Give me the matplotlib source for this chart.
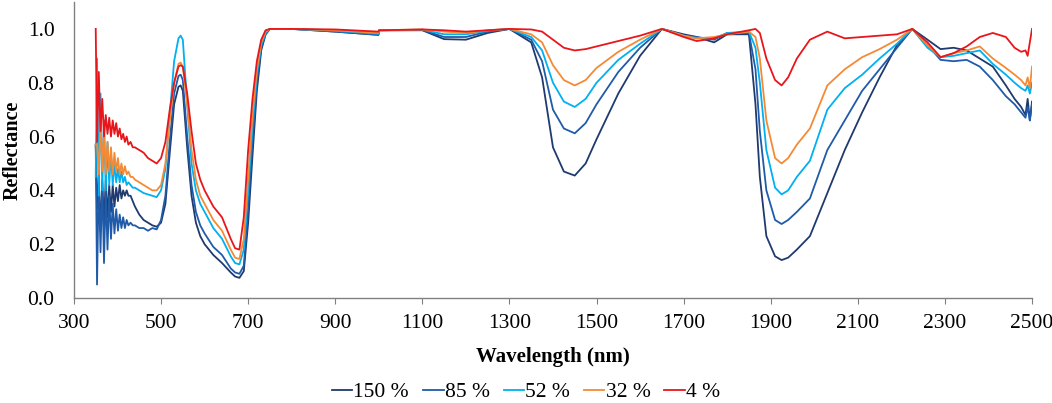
import matplotlib
matplotlib.use('Agg')
import matplotlib.pyplot as plt

# longitudini d'onda comuni a tutte le curve (nm)
wavelength = [350, 353, 357, 361, 365, 369, 373, 377, 381, 385, 389, 393, 397, 401, 405, 409, 413, 417,
              421, 425, 430, 435, 440, 450, 460, 470, 480, 490, 500,
              510, 520, 530, 540, 545, 550, 560, 570, 580, 590,
              600, 620, 640, 660, 670, 680, 690, 700, 710, 720,
              730, 740, 750, 800, 900, 999, 1001, 1100, 1150, 1200,
              1250, 1300, 1350, 1375, 1400, 1425, 1450, 1475, 1500, 1550,
              1600, 1650, 1700, 1730, 1770, 1800, 1850, 1865, 1875, 1890,
              1910, 1925, 1940, 1960, 1990, 2030, 2070, 2110, 2150, 2190,
              2225, 2260, 2290, 2320, 2350, 2380, 2410, 2440, 2460, 2475,
              2485, 2490, 2495, 2500]

r150 = [0.57, 0.33, 0.45, 0.25, 0.43, 0.28, 0.44, 0.30, 0.42, 0.32, 0.42, 0.34, 0.41, 0.36, 0.42, 0.37, 0.40, 0.38,
        0.40, 0.38, 0.38, 0.36, 0.34, 0.31, 0.29, 0.28, 0.27, 0.265, 0.28,
        0.35, 0.54, 0.72, 0.785, 0.79, 0.77, 0.56, 0.38, 0.28, 0.23,
        0.20, 0.16, 0.13, 0.095, 0.08, 0.075, 0.10, 0.28, 0.53, 0.77,
        0.92, 0.98, 1.0, 1.0, 0.99, 0.978, 0.995, 0.995, 0.962, 0.96,
        0.985, 1.0, 0.95, 0.82, 0.56, 0.47, 0.455, 0.50, 0.59, 0.76,
        0.90, 1.0, 0.98, 0.97, 0.95, 0.98, 0.98, 0.72, 0.45, 0.23,
        0.155, 0.141, 0.15, 0.18, 0.23, 0.39, 0.55, 0.69, 0.82, 0.94,
        1.0, 0.96, 0.925, 0.93, 0.92, 0.89, 0.86, 0.79, 0.74, 0.71,
        0.68, 0.74, 0.66, 0.73]

r85 = [0.57, 0.05, 0.45, 0.17, 0.44, 0.13, 0.40, 0.18, 0.38, 0.22, 0.35, 0.24, 0.33, 0.25, 0.31, 0.26, 0.30, 0.26,
       0.29, 0.27, 0.28, 0.27, 0.27, 0.26, 0.26, 0.25, 0.26, 0.255, 0.29,
       0.38, 0.58, 0.76, 0.825, 0.83, 0.81, 0.60, 0.42, 0.32, 0.27,
       0.24, 0.19, 0.16, 0.11, 0.095, 0.09, 0.12, 0.33, 0.58, 0.80,
       0.93, 0.98, 1.0, 1.0, 0.99, 0.978, 0.995, 0.996, 0.97, 0.97,
       0.99, 1.0, 0.96, 0.88, 0.70, 0.63, 0.612, 0.65, 0.72, 0.84,
       0.93, 1.0, 0.975, 0.97, 0.96, 0.985, 0.985, 0.85, 0.62, 0.40,
       0.29, 0.275, 0.29, 0.32, 0.37, 0.55, 0.66, 0.77, 0.85, 0.93,
       1.0, 0.94, 0.885, 0.88, 0.885, 0.86, 0.81, 0.75, 0.72, 0.69,
       0.67, 0.71, 0.66, 0.72]

r52 = [0.45, 0.89, 0.38, 0.76, 0.40, 0.66, 0.40, 0.58, 0.42, 0.54, 0.42, 0.50, 0.43, 0.48, 0.43, 0.47, 0.43, 0.45,
       0.42, 0.43, 0.42, 0.41, 0.41, 0.40, 0.39, 0.385, 0.38, 0.375, 0.40,
       0.48, 0.68, 0.88, 0.965, 0.975, 0.96, 0.72, 0.50, 0.40, 0.35,
       0.32, 0.26, 0.22, 0.155, 0.13, 0.125, 0.18, 0.40, 0.64, 0.83,
       0.94, 0.985, 1.0, 1.0, 0.993, 0.982, 0.995, 0.997, 0.98, 0.98,
       0.993, 1.0, 0.97, 0.92, 0.80, 0.73, 0.71, 0.74, 0.80, 0.885,
       0.945, 1.0, 0.975, 0.965, 0.965, 0.985, 0.99, 0.93, 0.80, 0.55,
       0.41, 0.385, 0.40, 0.45, 0.51, 0.70, 0.78, 0.83, 0.89, 0.945,
       1.0, 0.93, 0.895, 0.90, 0.91, 0.92, 0.87, 0.83, 0.80, 0.78,
       0.77, 0.79, 0.76, 0.80]

r32 = [0.57, 0.57, 0.46, 0.68, 0.47, 0.62, 0.46, 0.58, 0.47, 0.56, 0.46, 0.54, 0.47, 0.52, 0.46, 0.50, 0.46, 0.49,
       0.46, 0.47, 0.45, 0.45, 0.44, 0.43, 0.42, 0.41, 0.40, 0.40, 0.42,
       0.50, 0.66, 0.80, 0.87, 0.875, 0.86, 0.72, 0.55, 0.44, 0.38,
       0.35, 0.29, 0.25, 0.18, 0.15, 0.145, 0.22, 0.45, 0.68, 0.85,
       0.95, 0.99, 1.0, 1.0, 0.995, 0.985, 0.995, 0.998, 0.99, 0.985,
       0.995, 1.0, 0.98, 0.95, 0.865, 0.81, 0.79, 0.81, 0.855, 0.915,
       0.96, 1.0, 0.975, 0.965, 0.97, 0.98, 0.99, 0.97, 0.89, 0.66,
       0.52, 0.50, 0.52, 0.57, 0.63, 0.79, 0.85, 0.895, 0.925, 0.96,
       1.0, 0.94, 0.895, 0.91, 0.92, 0.935, 0.89, 0.855, 0.83, 0.81,
       0.79, 0.82, 0.78, 0.86]

r4 = [1.00, 0.58, 0.84, 0.62, 0.74, 0.60, 0.68, 0.61, 0.67, 0.60, 0.66, 0.61, 0.65, 0.60, 0.63, 0.59, 0.61, 0.58,
      0.60, 0.57, 0.58, 0.56, 0.56, 0.55, 0.54, 0.52, 0.51, 0.50, 0.52,
      0.58, 0.70, 0.80, 0.86, 0.865, 0.86, 0.76, 0.62, 0.50, 0.44,
      0.40, 0.34, 0.30, 0.22, 0.185, 0.18, 0.30, 0.55, 0.74, 0.88,
      0.96, 0.995, 1.0, 1.0, 0.998, 0.99, 0.995, 0.998, 0.995, 0.99,
      0.995, 1.0, 0.998, 0.99, 0.96, 0.93, 0.92, 0.925, 0.935, 0.955,
      0.975, 1.0, 0.97, 0.955, 0.965, 0.98, 0.995, 1.0, 0.985, 0.89,
      0.81, 0.79, 0.82, 0.89, 0.96, 0.99, 0.965, 0.97, 0.975, 0.98,
      1.0, 0.95, 0.895, 0.91, 0.935, 0.97, 0.985, 0.97, 0.93, 0.915,
      0.92, 0.90, 0.95, 1.0]

labels = ['150 %', '85 %', '52 %', '32 %', '4 %']
colori = ['#1F3A6E', '#1F5BA8', '#00B0F0', '#F58A35', '#E8161B']

plt.rcParams['font.family'] = ['Liberation Serif', 'DejaVu Serif']

fig = plt.figure(figsize=(10.52, 4.03), dpi=100)
ax = fig.add_axes([0.0703, 0.2605, 0.9107, 0.7345])

for serie, lab, c in zip([r150, r85, r52, r32, r4], labels, colori):
    ax.plot(wavelength, serie, color=c, lw=1.3, label=lab)

ax.set_xlim(300, 2500)
ax.set_ylim(0, 1.1)
ax.set_xticks(range(300, 2501, 200))
ax.set_yticks([0.0, 0.2, 0.4, 0.6, 0.8, 1.0])
ax.set_yticklabels(['0.0', '0.2', '0.4', '0.6', '0.8', '1.0'])

for s in ['top', 'right']:
    ax.spines[s].set_visible(False)
for s in ['left', 'bottom']:
    ax.spines[s].set_color('#808080')
    ax.spines[s].set_linewidth(1.0)

ax.tick_params(axis='x', direction='out', length=4.5, color='#808080', labelsize=15.5, pad=7)
ax.tick_params(axis='y', length=0, labelsize=15.5, pad=14)

ax.set_xlabel('Wavelength (nm)', fontsize=15, fontweight='bold')
ax.xaxis.set_label_coords(0.5, -0.165)
ax.set_ylabel('Reflectance', fontsize=14.5, fontweight='bold')
ax.yaxis.set_label_coords(-0.053, 0.5)

fig.legend(loc='center', bbox_to_anchor=(0.5, 11 / 403), ncol=5, frameon=False,
           fontsize=15.5, handlelength=0.95, handletextpad=0.05, columnspacing=0.65)

fig.savefig('out.png', dpi=100)
